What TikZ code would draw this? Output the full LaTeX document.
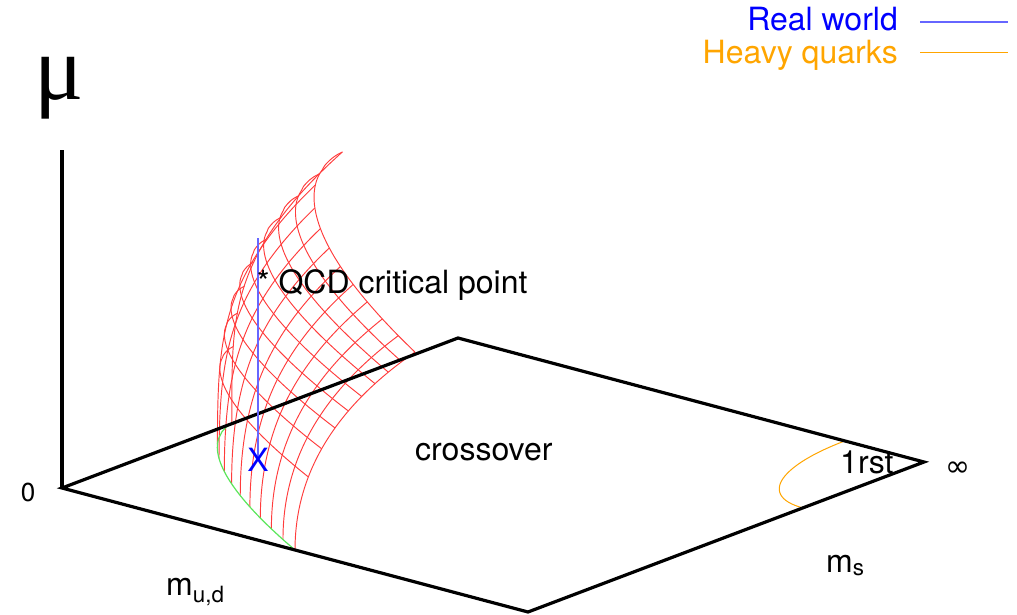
\documentclass[tikz,border=0pt]{standalone}
\usepackage{fontspec}
\setsansfont{TeX Gyre Heros}
\newfontfamily\mufont{Liberation Serif}
\newfontfamily\symbfont{DejaVu Sans}
\usepackage{tikz}
\usetikzlibrary{positioning}
\definecolor{meshred}{RGB}{255, 60, 60}
\definecolor{tricgreen}{RGB}{90, 230, 90}
\definecolor{heavyorange}{RGB}{255, 165, 0}
\definecolor{realblue}{RGB}{0, 0, 255}

\begin{document}
\begin{tikzpicture}[x=1pt, y=-1pt,
  lbl/.style={font=\sffamily\fontsize{32}{36}\selectfont, inner sep=0pt},
  edge/.style={line width=3.2pt},
  mesh/.style={meshred, line width=0.95pt},
  realline/.style={realblue!60, line width=1.3pt}]
\useasboundingbox (0,0) rectangle (1017,615);
% legend
\node[lbl, realblue, anchor=base east] (realtxt) at (898,31) {Real world};
\node[lbl, heavyorange, anchor=base east] (heavytxt) at (898,64) {Heavy quarks};
\coordinate (realA) at (920,22);
\coordinate (realB) at (1008,22);
\coordinate (heavyA) at (920,53);
\coordinate (heavyB) at (1008,53);
\draw[realline] (realA) -- (realB);
\draw[heavyorange, line width=1pt] (heavyA) -- (heavyB);
% mass plane, mu axis and the critical surface
\begin{scope}[shift={(62,488)}, x={(466pt,-124pt)}, y={(396pt,150pt)}, z={(0pt,338pt)}]
\coordinate (O) at (0,0,0);
\coordinate (Bud) at (1,0,0);
\coordinate (C) at (1,1,0);
\coordinate (Ams) at (0,1,0);
\coordinate (Mu) at (0,0,1);
% lines of constant m_ud
\foreach \k in {0,...,10}{
  \pgfmathsetmacro{\xk}{0.05*\k}
  \pgfmathsetmacro{\yk}{0.43*(1-(max(\k,0.001)/10)^0.65)}
  \draw[mesh] plot[domain=0:1, samples=30, smooth] ({\xk*(1+0.515*\x*\x)}, {\yk*(1+0.65*\x*\x*\x*\x)}, {0.68*\x});
}
% lines of constant mu^2
\foreach \j in {1,...,9}{
  \pgfmathsetmacro{\uj}{\j/9}
  \pgfmathsetmacro{\zj}{0.68*sqrt(\uj)}
  \draw[mesh] plot[domain=0.001:1, samples=40, smooth] ({0.5*(\x)^1.538*(1+0.515*\uj)}, {0.43*(1-\x)*(1+0.65*\uj*\uj)}, {\zj});
}
\draw[tricgreen, line width=1.2pt] plot[domain=0.001:1, samples=40, smooth] ({0.5*(\x)^1.538}, {0.43*(1-\x)}, {0});
\draw[heavyorange, line width=1pt] plot[domain=0:90, samples=30, smooth] ({1-0.17*cos(\x)}, {1-0.306*sin(\x)}, {0});
\draw[edge] (O) -- (Bud) -- (C) -- (Ams) -- cycle;
\draw[edge] (O) -- (Mu);
% real world line
\coordinate (rw) at (0.154,0.314,0);
\coordinate (rwtop) at (0.154,0.314,0.657);
\draw[realline] (rw) -- (rwtop);
\node[lbl, realblue] (xmark) at (rw) {X};
\end{scope}
% labels
\node[anchor=base, inner sep=0pt] (mulbl) at (59,100) {\mufont\fontsize{92}{92}\selectfont μ};
\node[lbl, font=\sffamily\fontsize{26}{30}\selectfont] (zero) at (28,492) {0};
\node[lbl, anchor=base west] (mud) at (166,595) {m\textsubscript{u,d}};
\node[lbl, anchor=base west] (ms) at (826,572) {m\textsubscript{s}};
\node[lbl, anchor=base west] (cross) at (415,460) {crossover};
\node[lbl, anchor=base west] (qcd) at (257,293) {* QCD critical point};
\node[lbl, anchor=base west] (first) at (840,473) {1rst};
\node[inner sep=0pt] (inf) at (958,469) {\symbfont\fontsize{30}{30}\selectfont ∞};
\end{tikzpicture}
\end{document}
